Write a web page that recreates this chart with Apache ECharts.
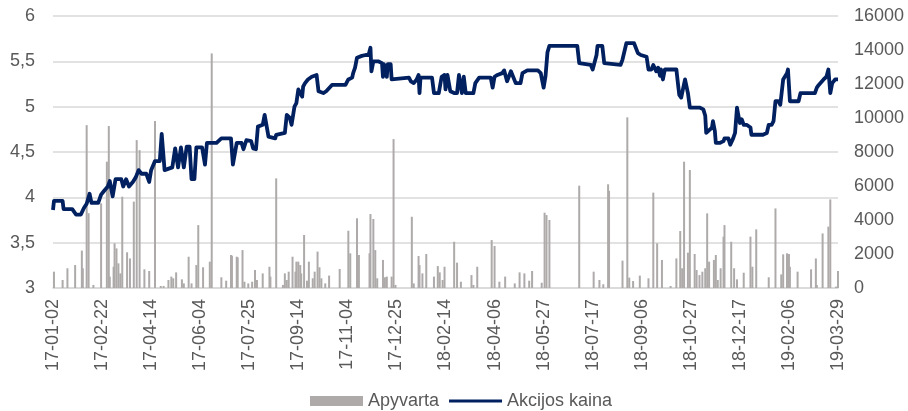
<!DOCTYPE html>
<html>
<head>
<meta charset="utf-8">
<script src="https://cdn.jsdelivr.net/npm/echarts@6/dist/echarts.min.js"></script>
<style>
  html, body { margin: 0; padding: 0; background: #fff; }
  #chart { width: 908px; height: 411px; }
</style>
</head>
<body>
<div id="chart"></div>
<script>
// days are counted from 2017-01-02
const startDate = Date.UTC(2017, 0, 2)
const dayCount = 816
const labelStep = 51

/* Akcijos kaina (left axis) */
const priceDays = [
  0, 1, 10, 11, 20, 24, 29, 32, 35, 38, 40, 47, 50, 53, 57, 59, 62, 65, 71, 73,
  76, 79, 83, 86, 89, 92, 97, 100, 102, 106, 111, 113, 116, 124, 127, 130, 133, 136, 139, 142,
  144, 147, 149, 155, 158, 160, 170, 175, 185, 187, 191, 196, 198, 201, 206, 208, 211, 213, 218, 220,
  222, 224, 231, 232, 241, 243, 246, 248, 251, 253, 255, 257, 259, 260, 262, 265, 269, 274, 276, 281,
  284, 290, 304, 307, 311, 312, 314, 316, 321, 325, 328, 330, 331, 333, 338, 340, 342, 343, 344, 346,
  347, 348, 351, 352, 353, 370, 372, 375, 378, 380, 381, 382, 394, 396, 401, 404, 407, 408, 410, 412,
  413, 417, 420, 422, 424, 425, 427, 429, 437, 439, 441, 443, 455, 457, 459, 462, 467, 469, 471, 472,
  474, 476, 478, 481, 486, 488, 490, 493, 504, 507, 510, 512, 514, 516, 545, 547, 559, 561, 563, 565,
  566, 571, 573, 575, 590, 592, 596, 604, 608, 611, 617, 619, 622, 624, 625, 627, 629, 631, 632, 634,
  636, 648, 650, 651, 653, 655, 657, 658, 660, 662, 664, 672, 676, 678, 679, 681, 685, 686, 688, 689,
  691, 693, 695, 697, 698, 702, 704, 705, 707, 709, 711, 712, 714, 716, 718, 721, 725, 726, 738, 742,
  744, 747, 749, 751, 754, 756, 758, 759, 761, 763, 764, 766, 775, 777, 792, 794, 796, 801, 804, 806,
  808, 810, 812, 813, 816
]
const priceValues = [
  3.86, 3.96, 3.96, 3.87, 3.87, 3.81, 3.81, 3.88, 3.93, 4.04, 3.94, 3.94, 4.03, 4.07, 4.12, 4.18, 4.01, 4.20, 4.20, 4.12,
  4.20, 4.12, 4.17, 4.22, 4.30, 4.26, 4.26, 4.17, 4.30, 4.40, 4.40, 4.70, 4.30, 4.33, 4.54, 4.33, 4.55, 4.33, 4.56, 4.56,
  4.20, 4.20, 4.55, 4.55, 4.36, 4.60, 4.60, 4.65, 4.65, 4.36, 4.60, 4.60, 4.53, 4.63, 4.62, 4.54, 4.53, 4.78, 4.80, 4.91,
  4.91, 4.67, 4.65, 4.69, 4.71, 4.91, 4.88, 4.80, 5.00, 5.04, 5.19, 5.21, 5.11, 5.22, 5.26, 5.30, 5.33, 5.35, 5.17, 5.15,
  5.17, 5.24, 5.24, 5.30, 5.32, 5.37, 5.43, 5.54, 5.56, 5.57, 5.57, 5.65, 5.39, 5.50, 5.50, 5.48, 5.48, 5.33, 5.47, 5.47,
  5.33, 5.47, 5.47, 5.30, 5.32, 5.32, 5.28, 5.26, 5.30, 5.35, 5.15, 5.32, 5.32, 5.15, 5.15, 5.33, 5.35, 5.19, 5.35, 5.33,
  5.17, 5.15, 5.15, 5.35, 5.35, 5.15, 5.33, 5.15, 5.15, 5.26, 5.28, 5.32, 5.32, 5.21, 5.33, 5.35, 5.37, 5.40, 5.39, 5.28,
  5.26, 5.39, 5.40, 5.26, 5.26, 5.37, 5.39, 5.40, 5.40, 5.37, 5.21, 5.34, 5.60, 5.67, 5.67, 5.48, 5.46, 5.41, 5.39, 5.57,
  5.67, 5.67, 5.48, 5.46, 5.46, 5.52, 5.70, 5.70, 5.59, 5.57, 5.55, 5.41, 5.41, 5.46, 5.44, 5.39, 5.43, 5.34, 5.41, 5.30,
  5.41, 5.41, 5.22, 5.13, 5.10, 5.11, 5.30, 5.30, 5.15, 4.99, 4.97, 4.99, 4.97, 4.90, 4.71, 4.71, 4.77, 4.84, 4.73, 4.60,
  4.62, 4.60, 4.58, 4.62, 4.65, 4.65, 4.58, 4.60, 4.65, 4.71, 4.99, 4.93, 4.82, 4.86, 4.80, 4.80, 4.77, 4.69, 4.69, 4.71,
  4.80, 4.80, 4.84, 5.06, 5.06, 5.02, 5.00, 5.30, 5.32, 5.37, 5.41, 5.06, 5.06, 5.15, 5.15, 5.21, 5.24, 5.30, 5.33, 5.41,
  5.15, 5.26, 5.25, 5.30, 5.30
]

/* Apyvarta (right axis) */
const volumeDays = [
  1, 10, 15, 23, 30, 31, 35, 37, 42, 50, 56, 58, 59, 63, 64, 66, 68, 70, 72, 77,
  80, 84, 87, 90, 95, 100, 106, 112, 115, 120, 123, 125, 128, 134, 136, 141, 144, 149, 151, 156,
  163, 165, 175, 180, 185, 186, 191, 192, 197, 199, 203, 207, 210, 212, 218, 225, 226, 232, 239, 241,
  243, 245, 249, 252, 253, 255, 257, 258, 261, 264, 266, 270, 272, 275, 277, 279, 283, 287, 298, 307,
  309, 316, 318, 329, 330, 333, 335, 337, 343, 345, 347, 352, 354, 356, 373, 375, 380, 381, 384, 388,
  396, 400, 402, 405, 407, 417, 420, 424, 435, 437, 441, 456, 459, 464, 470, 480, 485, 490, 495, 498,
  508, 511, 513, 516, 547, 562, 568, 572, 577, 578, 592, 597, 599, 603, 610, 619, 624, 628, 633, 642,
  648, 652, 654, 656, 660, 662, 667, 669, 672, 675, 678, 680, 682, 687, 689, 691, 694, 697, 698, 705,
  708, 711, 718, 725, 727, 731, 744, 751, 757, 759, 763, 765, 766, 774, 788, 793, 794, 800, 806, 808,
  814, 816
]
const volumeValues = [
  960, 470, 1160, 1350, 2200, 1160, 9580, 4400, 180, 4980, 7430, 9530, 670, 1250, 2630, 2330, 1450, 860, 5370, 2100,
  1740, 5080, 8700, 8110, 1100, 1000, 9820, 120, 120, 470, 670, 570, 920, 510, 270, 1840, 270, 1350, 3700, 1220,
  1550, 13800, 630, 430, 1940, 1900, 1840, 1800, 2230, 370, 270, 370, 1060, 470, 860, 1250, 670, 6450, 180, 860,
  470, 960, 1840, 960, 1550, 1550, 1350, 860, 3120, 430, 1550, 570, 960, 2140, 1220, 570, 270, 730, 1120, 3370,
  2040, 4100, 1940, 2040, 4350, 4060, 2230, 570, 1650, 630, 670, 670, 8760, 180, 4190, 270, 1880, 1350, 860, 2000,
  670, 1290, 920, 470, 1250, 2720, 1490, 370, 760, 180, 1250, 2820, 2470, 370, 670, 270, 920, 860, 430, 1000,
  310, 4430, 4290, 4000, 6020, 960, 470, 220, 6100, 5720, 1610, 10040, 610, 410, 730, 570, 5610, 2630, 1650, 120,
  1740, 3350, 1160, 7430, 2080, 6940, 2000, 1060, 760, 960, 1160, 4390, 1550, 1650, 1940, 470, 1160, 3020, 3700, 2720,
  1160, 510, 900, 3020, 1250, 3450, 630, 4680, 800, 1980, 2040, 2000, 1250, 960, 1100, 1740, 180, 3210, 3610, 5210,
  80, 1000
]

const pad = n => (n < 10 ? '0' : '') + n
const dayLabel = day => {
  const d = new Date(startDate + day * 86400000)
  return String(d.getUTCFullYear()).slice(2) + '-' + pad(d.getUTCMonth() + 1) + '-' + pad(d.getUTCDate())
}

const textColor = '#595959'
const gridColor = '#d9d9d9'
// thin horizontal stroke inside a 53x10 box (tiny corner specks keep the box size)
const lineIcon = 'path://M0,0 L0.01,0 L0.01,0.01 Z M0,3.4 L53,3.4 L53,6.6 L0,6.6 Z M53,10 L52.99,10 L52.99,9.99 Z'

const chart = echarts.init(document.getElementById('chart'))
chart.setOption({
  animation: false,
  textStyle: { fontFamily: 'Liberation Sans, Arial, sans-serif' },
  grid: { left: 53, right: 70, top: 16, bottom: 123 },
  legend: {
    left: 305,
    top: 387,
    itemWidth: 53,
    itemHeight: 10,
    itemGap: 10,
    textStyle: { color: textColor, fontSize: 18 },
    data: [
      { name: 'Apyvarta', icon: 'rect' },
      { name: 'Akcijos kaina', icon: lineIcon }
    ]
  },
  xAxis: {
    type: 'value',
    min: 0,
    max: dayCount,
    interval: labelStep,
    axisLine: { show: true, lineStyle: { color: gridColor, width: 1.5 } },
    axisTick: { show: false },
    splitLine: { show: false },
    axisLabel: {
      rotate: 90,
      margin: 11,
      color: textColor,
      fontSize: 18,
      showMinLabel: true,
      showMaxLabel: true,
      formatter: v => dayLabel(v)
    }
  },
  yAxis: [
    {
      type: 'value',
      min: 3,
      max: 6,
      interval: 0.5,
      axisLine: { show: false },
      axisTick: { show: false },
      splitLine: { lineStyle: { color: gridColor, width: 1.5 } },
      axisLabel: {
        margin: 18,
        color: textColor,
        fontSize: 18,
        formatter: v => String(v).replace('.', ',')
      }
    },
    {
      type: 'value',
      min: 0,
      max: 16000,
      interval: 2000,
      axisLine: { show: false },
      axisTick: { show: false },
      splitLine: { show: false },
      axisLabel: { margin: 16, color: textColor, fontSize: 18, formatter: v => String(v) }
    }
  ],
  series: [
    {
      name: 'Apyvarta',
      type: 'bar',
      yAxisIndex: 1,
      barWidth: 2,
      itemStyle: { color: '#aeaaaa' },
      data: volumeDays.map((d, i) => [d, volumeValues[i]])
    },
    {
      name: 'Akcijos kaina',
      type: 'line',
      yAxisIndex: 0,
      symbol: 'none',
      z: 5,
      lineStyle: { color: '#002060', width: 3.8, join: 'round' },
      itemStyle: { color: '#002060' },
      data: priceDays.map((d, i) => [d, priceValues[i]])
    }
  ]
})
</script>
</body>
</html>
